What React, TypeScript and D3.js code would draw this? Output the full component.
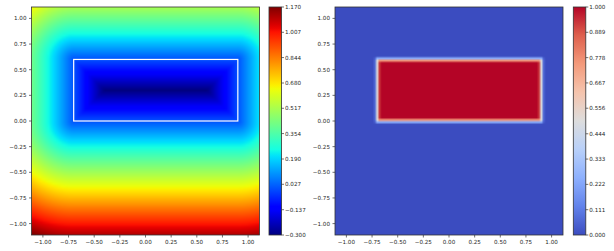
import React, { useMemo } from 'react';
import * as d3 from 'd3';

// grid the fields were sampled on (100 x 100 over [-1.1, 1.1])
const GRID_N = 100;
const GRID_MIN = -1.1;
const GRID_MAX = 1.1;

// the rectangle whose distance field is shown
const RECT_X = [-0.7, 0.9];
const RECT_Y = [0.0, 0.6];
const HEAVISIDE_EPS = 0.04;

const AXIS_TICKS = [-1, -0.75, -0.5, -0.25, 0, 0.25, 0.5, 0.75, 1];
const SDF_TICKS = [-0.3, -0.137, 0.027, 0.19, 0.354, 0.517, 0.68, 0.844, 1.007, 1.17];
const IND_TICKS = [0, 0.111, 0.222, 0.333, 0.444, 0.556, 0.667, 0.778, 0.889, 1.0];

// matplotlib "jet" segment data
const JET_R: [number, number][] = [[0, 0], [0.35, 0], [0.66, 1], [0.89, 1], [1, 0.5]];
const JET_G: [number, number][] = [[0, 0], [0.125, 0], [0.375, 1], [0.64, 1], [0.91, 0], [1, 0]];
const JET_B: [number, number][] = [[0, 0.5], [0.11, 1], [0.34, 1], [0.65, 0], [1, 0]];

// matplotlib "coolwarm" samples
const COOLWARM = ['#3b4cc0', '#6282ea', '#8db0fe', '#b8d0f9', '#dddddd', '#f5c4ad', '#f49a7b', '#de604d', '#b40426'];

const W = 614;
const H = 251;

const piece = (stops: [number, number][], t: number) => {
  for (let i = 1; i < stops.length; i++) {
    if (t <= stops[i][0]) {
      const [t0, v0] = stops[i - 1];
      const [t1, v1] = stops[i];
      return v0 + ((t - t0) / (t1 - t0)) * (v1 - v0);
    }
  }
  return stops[stops.length - 1][1];
};

const jet = (t: number) => {
  t = Math.max(0, Math.min(1, t));
  const r = Math.round(piece(JET_R, t) * 255);
  const g = Math.round(piece(JET_G, t) * 255);
  const b = Math.round(piece(JET_B, t) * 255);
  return `rgb(${r},${g},${b})`;
};

const coolwarm = d3.scaleLinear<string>()
  .domain(d3.range(COOLWARM.length).map(i => i / (COOLWARM.length - 1)))
  .range(COOLWARM)
  .interpolate(d3.interpolateRgb)
  .clamp(true);

const sdf = (x: number, y: number) => {
  const dx = Math.max(RECT_X[0] - x, 0, x - RECT_X[1]);
  const dy = Math.max(RECT_Y[0] - y, 0, y - RECT_Y[1]);
  if (dx > 0 || dy > 0) return Math.hypot(dx, dy);
  return -Math.min(x - RECT_X[0], RECT_X[1] - x, y - RECT_Y[0], RECT_Y[1] - y);
};

const heaviside = (phi: number) => {
  if (phi < -HEAVISIDE_EPS) return 1;
  if (phi > HEAVISIDE_EPS) return 0;
  return 0.5 * (1 - phi / HEAVISIDE_EPS - Math.sin((Math.PI * phi) / HEAVISIDE_EPS) / Math.PI);
};

const gridVals = d3.range(GRID_N).map(i => GRID_MIN + (i * (GRID_MAX - GRID_MIN)) / (GRID_N - 1));
const half = (GRID_MAX - GRID_MIN) / (GRID_N - 1) / 2;

// render a field into a data url (row 0 = top = largest y)
const fieldImage = (f: (x: number, y: number) => number, color: (v: number) => string) => {
  const canvas = document.createElement('canvas');
  canvas.width = GRID_N;
  canvas.height = GRID_N;
  const ctx = canvas.getContext('2d')!;
  const img = ctx.createImageData(GRID_N, GRID_N);
  for (let row = 0; row < GRID_N; row++) {
    const y = gridVals[GRID_N - 1 - row];
    for (let col = 0; col < GRID_N; col++) {
      const c = d3.rgb(color(f(gridVals[col], y)));
      const k = (row * GRID_N + col) * 4;
      img.data[k] = c.r;
      img.data[k + 1] = c.g;
      img.data[k + 2] = c.b;
      img.data[k + 3] = 255;
    }
  }
  ctx.putImageData(img, 0, 0);
  return canvas.toDataURL();
};

const fmt2 = d3.format('.2f');
const fmt3 = d3.format('.3f');
const FONT = 'DejaVu Sans, sans-serif';
const FS = 5.6;
const TXT = '#262626';
const SPINE = '#333';

const Panel = ({ x0, y0, size, href, rect }: { x0: number; y0: number; size: number; href: string; rect: boolean }) => {
  const x = d3.scaleLinear().domain([GRID_MIN - half, GRID_MAX + half]).range([x0, x0 + size]);
  const y = d3.scaleLinear().domain([GRID_MIN - half, GRID_MAX + half]).range([y0 + size, y0]);
  return (
    <g>
      <image href={href} x={x0} y={y0} width={size} height={size} preserveAspectRatio="none" />
      {rect && (
        <rect x={x(RECT_X[0])} y={y(RECT_Y[1])} width={x(RECT_X[1]) - x(RECT_X[0])} height={y(RECT_Y[0]) - y(RECT_Y[1])}
          fill="none" stroke="#fff" strokeWidth={1.2} />
      )}
      <rect x={x0} y={y0} width={size} height={size} fill="none" stroke={SPINE} strokeWidth={0.8} />
      {AXIS_TICKS.map(t => (
        <g key={'x' + t}>
          <line x1={x(t)} x2={x(t)} y1={y0 + size} y2={y0 + size + 2.5} stroke={SPINE} strokeWidth={0.7} />
          <text x={x(t)} y={y0 + size + 9} textAnchor="middle" fontSize={FS} fontFamily={FONT} fill={TXT}>{fmt2(t)}</text>
        </g>
      ))}
      {AXIS_TICKS.map(t => (
        <g key={'y' + t}>
          <line x1={x0 - 2.5} x2={x0} y1={y(t)} y2={y(t)} stroke={SPINE} strokeWidth={0.7} />
          <text x={x0 - 5} y={y(t)} dy="0.35em" textAnchor="end" fontSize={FS} fontFamily={FONT} fill={TXT}>{fmt2(t)}</text>
        </g>
      ))}
    </g>
  );
};

const Colorbar = ({ id, x0, y0, w, h, ticks, color }: { id: string; x0: number; y0: number; w: number; h: number; ticks: number[]; color: (t: number) => string }) => {
  const lo = ticks[0];
  const hi = ticks[ticks.length - 1];
  const y = d3.scaleLinear().domain([lo, hi]).range([y0 + h, y0]);
  const stops = d3.range(65).map(i => i / 64);
  return (
    <g>
      <defs>
        <linearGradient id={id} x1="0" y1="1" x2="0" y2="0">
          {stops.map(s => <stop key={s} offset={s} stopColor={color(s)} />)}
        </linearGradient>
      </defs>
      <rect x={x0} y={y0} width={w} height={h} fill={`url(#${id})`} stroke={SPINE} strokeWidth={0.8} />
      {ticks.map(t => (
        <g key={t}>
          <line x1={x0 + w} x2={x0 + w + 2.5} y1={y(t)} y2={y(t)} stroke={SPINE} strokeWidth={0.7} />
          <text x={x0 + w + 3.5} y={y(t)} dy="0.35em" fontSize={FS} fontFamily={FONT} fill={TXT}>{fmt3(t)}</text>
        </g>
      ))}
    </g>
  );
};

const App = () => {
  const sdfMin = SDF_TICKS[0];
  const sdfMax = SDF_TICKS[SDF_TICKS.length - 1];
  const images = useMemo(() => ({
    sdf: fieldImage(sdf, v => jet((v - sdfMin) / (sdfMax - sdfMin))),
    ind: fieldImage((x, yy) => heaviside(sdf(x, yy)), v => coolwarm(v)),
  }), []);

  return (
    <svg width={W} height={H} style={{ position: 'absolute', left: 0, top: 0, background: '#fff' }}>
      <Panel x0={31.5} y0={7} size={228} href={images.sdf} rect={true} />
      <Colorbar id="cb-jet" x0={269} y0={7} w={12.5} h={228} ticks={SDF_TICKS} color={jet} />
      <Panel x0={335} y0={7} size={228} href={images.ind} rect={false} />
      <Colorbar id="cb-cw" x0={573.3} y0={7} w={12.5} h={228} ticks={IND_TICKS} color={t => coolwarm(t)} />
    </svg>
  );
};

export default App;
